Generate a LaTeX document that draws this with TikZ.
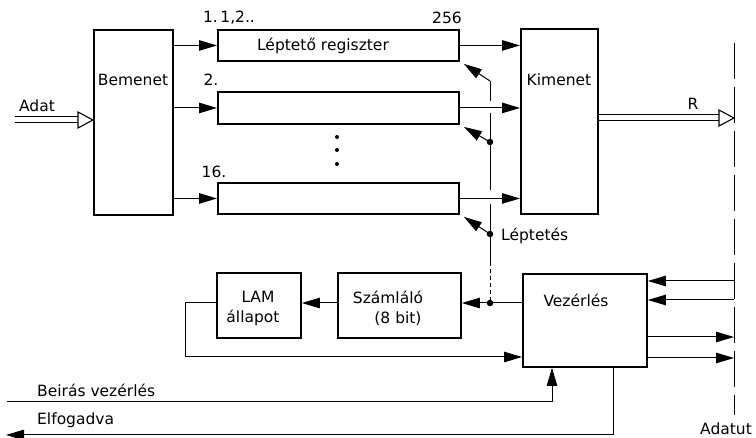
\documentclass[tikz,border=0pt]{standalone}
\usepackage{fontspec}
\setmainfont{DejaVu Sans}
\usetikzlibrary{arrows.meta}
\begin{document}
\begin{tikzpicture}[x=1pt,y=-1pt,
  box/.style={draw,line width=1.9pt,inner sep=0pt,anchor=north west},
  ln/.style={line width=1pt},
  arr/.style={ln,-{Triangle[length=18pt,width=10.5pt]}},
  txt/.style={inner sep=0pt,font=\fontsize{15.5}{18}\selectfont},
  jdot/.style={circle,fill,inner sep=0pt,minimum size=6.5pt},
  edot/.style={circle,fill,inner sep=0pt,minimum size=4pt},
  dbl/.style={double,line width=1pt,double distance=5pt},
  openhead/.style={line width=1.1pt,fill=white,line join=miter}]
\useasboundingbox (0,0) rectangle (756,438);
% boxes
\node[box,minimum width=79pt,minimum height=185pt] (bem) at (93,29) {};
\node[box,minimum width=241pt,minimum height=31pt] (r1) at (217,29) {};
\node[box,minimum width=241pt,minimum height=32pt] (r2) at (217,91) {};
\node[box,minimum width=241pt,minimum height=31pt] (r3) at (217,182) {};
\node[box,minimum width=77pt,minimum height=185pt] (kim) at (520,28) {};
\node[box,minimum width=124pt,minimum height=93pt] (vez) at (522,273) {};
\node[box,minimum width=123pt,minimum height=65pt] (szam) at (337,272) {};
\node[box,minimum width=84pt,minimum height=65pt] (lam) at (216,272) {};
% texts
\node[txt] (tbem) at (133,80) {Bemenet};
\node[txt] (tkim) at (559,80) {Kimenet};
\node[txt] (tr1) at (323,46) {Léptető regiszter};
\node[txt] (tn1) at (229,18) {1.\,1,2..};
\node[txt] (t256) at (447,18) {256};
\node[txt] (tn2) at (211,80) {2.};
\node[txt] (tn16) at (214,172) {16.};
\node[txt] (tadat) at (37,106) {Adat};
\node[txt] (tR) at (693,104) {R};
\node[txt,anchor=west] (tlep) at (501,236) {Léptetés};
\node[txt] (tsz1) at (388,297) {Számláló};
\node[txt] (tsz2) at (398,319) {(8 bit)};
\node[txt] (tlam1) at (258,297) {LAM};
\node[txt] (tlam2) at (253,318) {állapot};
\node[txt] (tvez) at (576,300) {Vezérlés};
\node[txt,anchor=west] (tbv) at (37,390) {Beirás vezérlés};
\node[txt,anchor=west] (tel) at (37,420) {Elfogadva};
\node[txt] (tau) at (726,429) {Adatut};
% ellipsis
\node[edot] (e1) at (337,137) {};
\node[edot] (e2) at (337,150) {};
\node[edot] (e3) at (337,164) {};
% coordinates
\coordinate (t0) at (490,81);
\coordinate (g1a) at (490,101);
\coordinate (g1b) at (490,113);
\coordinate (g2a) at (490,190);
\coordinate (g2b) at (490,204);
\coordinate (g3) at (490,262);
\node[jdot] (d1) at (490,142) {};
\node[jdot] (d2) at (490,234) {};
\node[jdot] (j) at (490,303) {};
\coordinate (au1) at (734,43);
\coordinate (au2) at (734,415);
\coordinate (adat0) at (15,120);
\coordinate (rend) at (734,118);
\coordinate (fb1) at (185,303);
\coordinate (fb2) at (185,357);
\coordinate (bv0) at (7,402);
\coordinate (bv1) at (552,402);
\coordinate (el0) at (613,435);
\coordinate (el1) at (6,435);
\coordinate (in1) at (734,281);
\coordinate (in2) at (734,300);
\coordinate (o1) at (734,337);
\coordinate (o2) at (734,358);
% bemenet -> registers
\draw[arr] (bem.east |- r1.west) -- (r1.west);
\draw[arr] (bem.east |- r2.west) -- (r2.west);
\draw[arr] (bem.east |- r3.west) -- (r3.west);
% registers -> kimenet
\draw[arr] (r1.east) -- (r1.east -| kim.west);
\draw[arr] (r2.east) -- (r2.east -| kim.west);
\draw[arr] (r3.east) -- (r3.east -| kim.west);
% shift clock line
\draw[arr] (t0) -- ([shift={(4,2)}]r1.south east);
\draw[arr] (d1.center) -- ([shift={(4,2)}]r2.south east);
\draw[arr] (d2.center) -- ([shift={(4,2)}]r3.south east);
\draw[ln] (t0) -- (g1a);
\draw[ln] (g1b) -- (g2a);
\draw[ln] (g2b) -- (g3);
\draw[ln,dash pattern=on 4pt off 3pt] (g3) -- (j.center);
% data path
\draw[ln,dash pattern=on 36pt off 8pt] (au1) -- (au2);
\draw[dbl] (adat0) -- ([xshift=-14]bem.west |- adat0);
\draw[openhead] (bem.west |- adat0) -- ++(-15,-8) -- ++(0,16) -- cycle;
\draw[dbl] (kim.east |- rend) -- ([xshift=-14]rend);
\draw[openhead] (rend) -- ++(-15,-8) -- ++(0,16) -- cycle;
% control
\draw[arr] (j -| vez.west) -- (j -| szam.east);
\draw[arr] (szam.west |- j) -- (lam.east |- j);
\draw[arr] (lam.west |- j) -- (fb1) -- (fb2) -- (fb2 -| vez.west);
\draw[arr] (bv0) -- (bv1) -- (bv1 |- vez.south);
\draw[arr] (el0 |- vez.south) -- (el0) -- (el1);
\draw[arr] (in1) -- (in1 -| vez.east);
\draw[arr] (in2) -- (in2 -| vez.east);
\draw[arr] (o1 -| vez.east) -- (o1);
\draw[arr] (o2 -| vez.east) -- (o2);
\end{tikzpicture}
\end{document}
